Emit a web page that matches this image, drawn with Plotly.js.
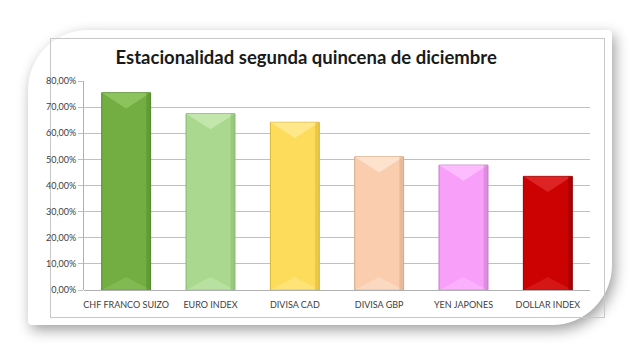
<!DOCTYPE html>
<html>
<head>
<meta charset="utf-8">
<script src="https://cdn.plot.ly/plotly-3.0.1.min.js"></script>
<style>
  html, body { margin:0; padding:0; background:#ffffff; width:642px; height:356px; overflow:hidden; }
  #card { position:absolute; left:28px; top:30px; width:584px; height:295px; background:#ffffff;
          border-radius:60px 4px 60px 4px; box-shadow: 3px 5px 14px rgba(0,0,0,0.38); }
  #inner { position:absolute; left:50px; top:38px; width:553px; height:278px; border:1px solid #c8c8c8; }
  #chart { position:absolute; left:0; top:0; width:642px; height:356px; }
</style>
</head>
<body>
<div id="card"></div>
<div id="inner"></div>
<div id="chart"></div>
<script>
const categories = ["CHF FRANCO SUIZO", "EURO INDEX", "DIVISA CAD", "DIVISA GBP", "YEN JAPONES", "DOLLAR INDEX"];
const values = [75.5, 67.5, 64.2, 51.0, 47.8, 43.5];
const barColors = ["#72ae42", "#aad88e", "#fddc5c", "#f9cdae", "#f89ffa", "#cc0202"];
const edgeColors = ["#4e8a2a", "#86b86c", "#d9b434", "#d6a985", "#c47ac6", "#8e0000"];
const lightColors = ["#9fd06f", "#d4f0c2", "#fff0a8", "#fff0e2", "#ffd0ff", "#e83a3a"];
const tickVals = [0, 10, 20, 30, 40, 50, 60, 70, 80];
const tickText = ["0,00%", "10,00%", "20,00%", "30,00%", "40,00%", "50,00%", "60,00%", "70,00%", "80,00%"];

const barWidth = 0.58;
const trace = {
  type: "bar", x: categories, y: values, width: barWidth,
  marker: { color: barColors, line: { color: edgeColors, width: 1 } },
  hoverinfo: "x+y"
};

// bevel highlights derived from the data values
const shapes = [];
values.forEach((v, i) => {
  const l = i - barWidth / 2, r = i + barWidth / 2;
  shapes.push({ type: "path", xref: "x", yref: "y", layer: "above",
    path: `M ${l} ${v} L ${r} ${v} L ${i} ${v - 6} Z`,
    fillcolor: lightColors[i], opacity: 0.6, line: { width: 0 } });
  shapes.push({ type: "path", xref: "x", yref: "y", layer: "above",
    path: `M ${l} 0 L ${r} 0 L ${i} 5 Z`,
    fillcolor: lightColors[i], opacity: 0.35, line: { width: 0 } });
  shapes.push({ type: "rect", xref: "x", yref: "y", layer: "above",
    x0: r - 0.05, x1: r, y0: 0, y1: v,
    fillcolor: edgeColors[i], opacity: 0.5, line: { width: 0 } });
});

const layout = {
  width: 642, height: 356,
  margin: { l: 84, r: 52, t: 81, b: 66 },
  paper_bgcolor: "rgba(0,0,0,0)", plot_bgcolor: "rgba(0,0,0,0)",
  title: { text: "<b>Estacionalidad segunda quincena de diciembre</b>",
           font: { family: "Lato, 'Open Sans', sans-serif", size: 18.5, color: "#1a1a1a" },
           x: 0.477, xanchor: "center", y: 0.838, yanchor: "middle" },
  showlegend: false,
  xaxis: { type: "category", tickfont: { family: "Lato, sans-serif", size: 9, color: "#404040" },
           showline: false, ticks: "outside", ticklen: 6, tickcolor: "rgba(0,0,0,0)", showgrid: false },
  yaxis: { range: [0, 80], tickvals: tickVals, ticktext: tickText,
           tickfont: { family: "Lato, sans-serif", size: 9, color: "#404040" },
           showgrid: true, gridcolor: "#c0c0c0", gridwidth: 1,
           showline: true, linecolor: "#b0b0b0", ticks: "outside", ticklen: 5, tickcolor: "#c0c0c0",
           zeroline: true, zerolinecolor: "#b0b0b0" },
  shapes: shapes
};

Plotly.newPlot("chart", [trace], layout, { displayModeBar: false, staticPlot: true });
</script>
</body>
</html>
